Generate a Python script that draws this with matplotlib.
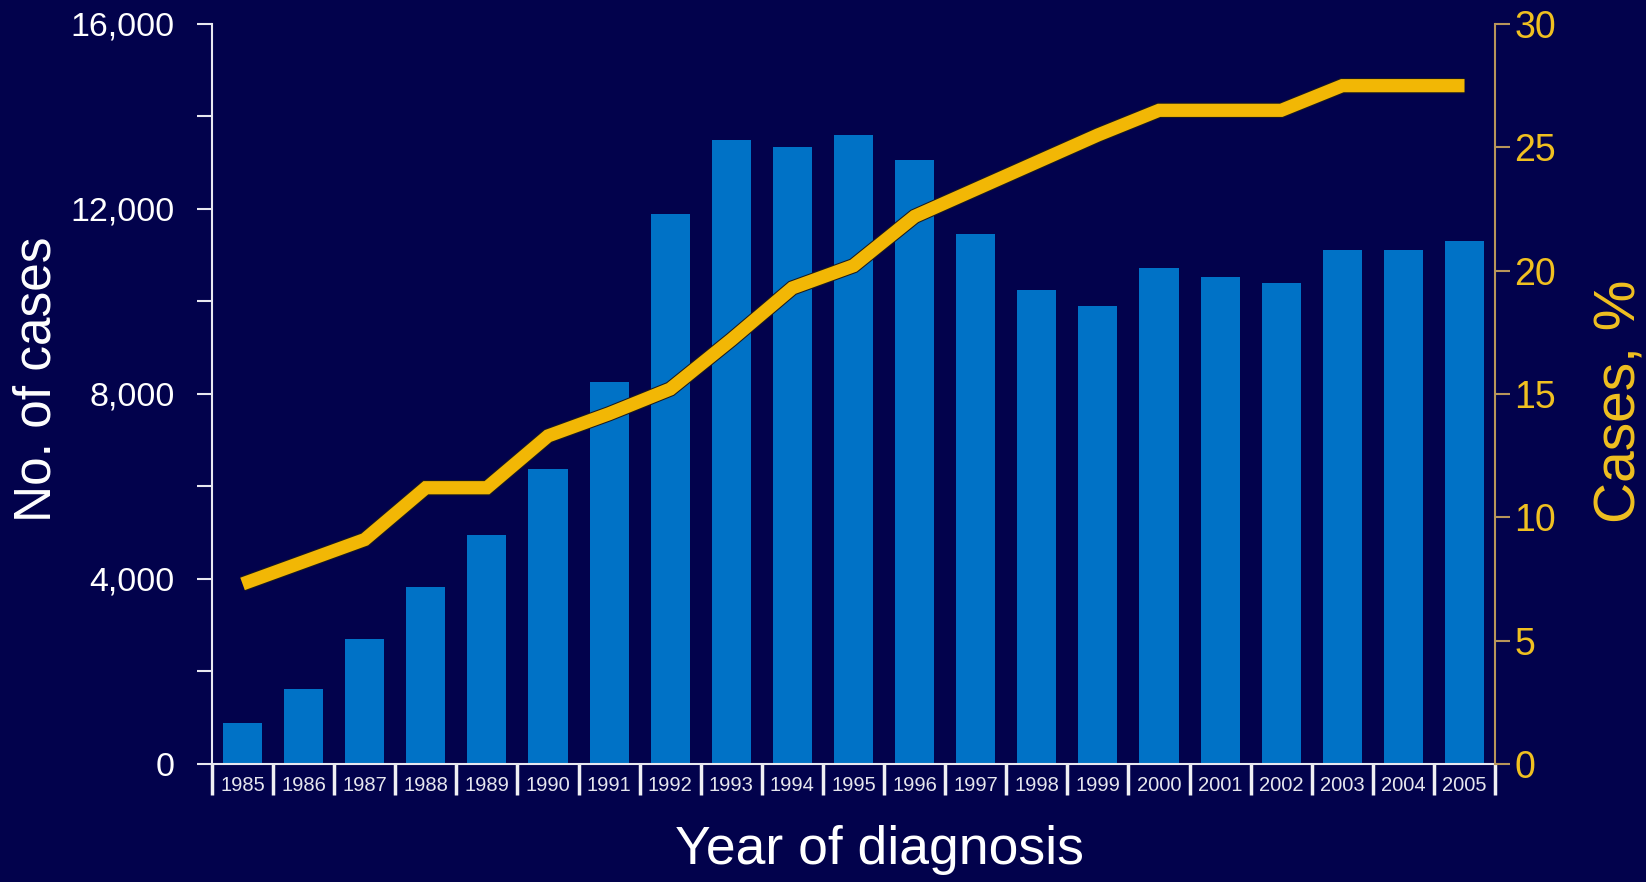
import matplotlib
matplotlib.use("Agg")
import matplotlib.pyplot as plt
import matplotlib.patheffects as pe

# data
years = ['1985', '1986', '1987', '1988', '1989', '1990', '1991', '1992', '1993', '1994', '1995',
         '1996', '1997', '1998', '1999', '2000', '2001', '2002', '2003', '2004', '2005']
cases = [890, 1620, 2700, 3820, 4950, 6370, 8270, 11900, 13500, 13330, 13600,
         13070, 11470, 10250, 9900, 10730, 10520, 10390, 11120, 11120, 11300]
pct = [7.3, 8.2, 9.1, 11.2, 11.2, 13.3, 14.2, 15.2, 17.2, 19.3, 20.2,
       22.2, 23.3, 24.4, 25.5, 26.5, 26.5, 26.5, 27.5, 27.5, 27.5]

left_ticks = [0, 2000, 4000, 6000, 8000, 10000, 12000, 14000, 16000]
left_labels = ['0', '', '4,000', '', '8,000', '', '12,000', '', '16,000']
right_ticks = [0, 5, 10, 15, 20, 25, 30]

bg = '#02024c'
bar_col = '#0072c6'
gold = '#f2b705'
gold_txt = '#f0c020'
tan = '#b8955a'

plt.rcParams['font.family'] = ['Liberation Sans', 'DejaVu Sans']

fig = plt.figure(figsize=(16.46, 8.82), dpi=100, facecolor=bg)
ax = fig.add_axes([0.1288, 0.1338, 0.7795, 0.839])
ax.set_facecolor(bg)

x = list(range(len(years)))
ax.bar(x, cases, width=0.64, color=bar_col, zorder=2)

ax.set_xlim(-0.47, 20.5)
ax.set_ylim(0, 16000)
ax.set_yticks(left_ticks)
ax.set_yticklabels(left_labels)
ax.tick_params(axis='y', colors='#e8e8f0', labelcolor='white', labelsize=24.5,
               length=11, width=1.5, direction='out', pad=16)

# year labels between white separators
ax.set_xticks(x)
ax.set_xticklabels(years, fontsize=14.5, color='#e6e6ee')
ax.tick_params(axis='x', which='major', length=0, pad=9)
ax.set_xticks([i - 0.5 for i in range(len(years) + 1)], minor=True)
ax.tick_params(axis='x', which='minor', length=22, width=2.5, color='#f0f0f4', direction='out')

for s in ['top', 'right']:
    ax.spines[s].set_visible(False)
ax.spines['left'].set_color('#e8e8f0')
ax.spines['bottom'].set_color('#e8e8f0')
ax.spines['left'].set_linewidth(1.5)
ax.spines['bottom'].set_linewidth(1.5)

# percentage line on the right axis
ax2 = ax.twinx()
ax2.set_ylim(0, 30)
ax2.set_yticks(right_ticks)
ax2.tick_params(axis='y', colors=tan, labelcolor=gold_txt, labelsize=27,
                length=11, width=1.5, pad=3)
for s in ['top', 'left', 'bottom']:
    ax2.spines[s].set_visible(False)
ax2.spines['right'].set_color(tan)
ax2.spines['right'].set_linewidth(1.5)
ax2.plot(x, pct, color=gold, linewidth=9.5, solid_capstyle='butt', solid_joinstyle='miter',
         path_effects=[pe.Stroke(linewidth=11, foreground='#1a1a20'), pe.Normal()], zorder=3)

# axis titles placed like on the slide
fig.text(0.0225, 0.57, 'No. of cases', rotation=90, fontsize=37, color='white',
         ha='center', va='center')
fig.text(0.9845, 0.545, 'Cases, %', rotation=90, fontsize=41, color=gold_txt,
         ha='center', va='center')
fig.text(0.534, 0.036, 'Year of diagnosis', fontsize=38.5, color='white',
         ha='center', va='center')

fig.savefig('out.png', dpi=100, facecolor=bg)
